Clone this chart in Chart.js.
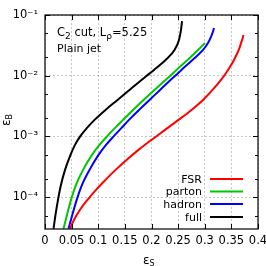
<!DOCTYPE html>
<html>
<head>
<meta charset="utf-8">
<script src="https://cdn.jsdelivr.net/npm/chart.js@4"></script>
<style>
  html, body { margin: 0; padding: 0; background: #fff; }
  #wrap { width: 266px; height: 266px; }
</style>
</head>
<body>
<div id="wrap"><canvas id="chart" width="266" height="266"></canvas></div>
<script>
// curve data: eps_S (x) and eps_B (y)
const fsrX    = [0.0469, 0.0545, 0.0657, 0.0798, 0.0958, 0.1136, 0.1324, 0.1531, 0.1756, 0.2, 0.2254, 0.2507, 0.2751, 0.2967, 0.3146, 0.3305, 0.3437, 0.3549, 0.3638, 0.37, 0.3728];
const fsrY    = [3.02e-5, 4.25e-5, 6.21e-5, 9.06e-5, 1.323e-4, 1.93e-4, 2.82e-4, 4.12e-4, 6.02e-4, 8.79e-4, 1.284e-3, 1.875e-3, 2.738e-3, 4.0e-3, 5.84e-3, 8.53e-3, 1.246e-2, 1.82e-2, 2.656e-2, 3.88e-2, 4.69e-2];
const partonX = [0.0347, 0.0413, 0.0488, 0.0582, 0.0714, 0.0883, 0.1023, 0.1174, 0.1315, 0.1465, 0.1653, 0.185, 0.2056, 0.2263, 0.2347, 0.2469, 0.2676, 0.2873, 0.3005];
const partonY = [3.02e-5, 5.13e-5, 9.06e-5, 1.6e-4, 2.82e-4, 4.98e-4, 7.27e-4, 1.023e-3, 1.385e-3, 1.875e-3, 2.738e-3, 4.0e-3, 5.84e-3, 8.53e-3, 9.92e-3, 1.246e-2, 1.82e-2, 2.656e-2, 3.46e-2];
const hadronX = [0.0441, 0.0513, 0.0595, 0.0695, 0.0836, 0.1005, 0.1146, 0.1296, 0.1437, 0.1577, 0.1765, 0.1962, 0.216, 0.2357, 0.2441, 0.2563, 0.277, 0.2967, 0.3061, 0.3117, 0.3164, 0.3174];
const hadronY = [3.02e-5, 5.13e-5, 9.06e-5, 1.6e-4, 2.82e-4, 4.98e-4, 7.27e-4, 1.023e-3, 1.385e-3, 1.875e-3, 2.738e-3, 4.0e-3, 5.84e-3, 8.53e-3, 9.92e-3, 1.246e-2, 1.82e-2, 2.656e-2, 3.46e-2, 4.35e-2, 5.67e-2, 6.11e-2];
const fullX   = [0.016, 0.0197, 0.0244, 0.030, 0.0376, 0.0479, 0.0563, 0.0667, 0.0789, 0.093, 0.1136, 0.1362, 0.1587, 0.1812, 0.1906, 0.2047, 0.2263, 0.2432, 0.2516, 0.2554, 0.2573];
const fullY   = [3.02e-5, 5.13e-5, 9.06e-5, 1.6e-4, 2.82e-4, 4.98e-4, 7.27e-4, 1.023e-3, 1.385e-3, 1.875e-3, 2.738e-3, 4.0e-3, 5.84e-3, 8.53e-3, 9.92e-3, 1.246e-2, 1.82e-2, 2.656e-2, 3.88e-2, 5.67e-2, 7.96e-2];

const seriesNames  = ["FSR", "parton", "hadron", "full"];
const seriesColors = ["#ff0000", "#00c800", "#0000ff", "#000000"];

const xTicks = [0, 0.05, 0.1, 0.15, 0.2, 0.25, 0.3, 0.35, 0.4];
const yMajor = [1e-4, 1e-3, 1e-2, 1e-1];
const yMinor = [5e-5, 2e-4, 5e-4, 2e-3, 5e-3, 2e-2, 5e-2];
const yLabels = ["10\u207B\u2074", "10\u207B\u00B3", "10\u207B\u00B2", "10\u207B\u00B9"];

const FONT = "'DejaVu Sans'";

function pts(xs, ys) {
    return xs.map((x, i) => ({ x: x, y: ys[i] }));
}

const allSeries = [pts(fsrX, fsrY), pts(partonX, partonY), pts(hadronX, hadronY), pts(fullX, fullY)];

// frame, inward ticks, titles, annotation and legend
const extras = {
    id: 'extras',
    afterDraw(chart) {
        const ctx = chart.ctx;
        const a = chart.chartArea;
        const xs = chart.scales.x, ys = chart.scales.y;
        ctx.save();
        ctx.strokeStyle = "#000";
        ctx.lineWidth = 1.2;
        ctx.strokeRect(a.left, a.top, a.right - a.left, a.bottom - a.top);

        ctx.lineWidth = 1;
        ctx.beginPath();
        xTicks.forEach(v => {
            const p = Math.round(xs.getPixelForValue(v)) + 0.5;
            ctx.moveTo(p, a.bottom); ctx.lineTo(p, a.bottom - 5);
            ctx.moveTo(p, a.top); ctx.lineTo(p, a.top + 5);
        });
        yMajor.forEach(v => {
            const p = Math.round(ys.getPixelForValue(v)) + 0.5;
            ctx.moveTo(a.left, p); ctx.lineTo(a.left + 5, p);
            ctx.moveTo(a.right, p); ctx.lineTo(a.right - 5, p);
        });
        yMinor.forEach(v => {
            const p = Math.round(ys.getPixelForValue(v)) + 0.5;
            ctx.moveTo(a.left, p); ctx.lineTo(a.left + 3, p);
            ctx.moveTo(a.right, p); ctx.lineTo(a.right - 3, p);
        });
        ctx.stroke();

        ctx.fillStyle = "#000";
        ctx.textBaseline = "alphabetic";
        ctx.textAlign = "left";

        // x title
        ctx.font = "12px " + FONT;
        let w = ctx.measureText("\u03B5").width;
        ctx.fillText("\u03B5", 143, 264);
        ctx.font = "8px " + FONT;
        ctx.fillText("S", 143 + w, 266);

        // y title
        ctx.save();
        ctx.translate(10, 126);
        ctx.rotate(-Math.PI / 2);
        ctx.font = "12px " + FONT;
        w = ctx.measureText("\u03B5").width;
        ctx.fillText("\u03B5", 0, 0);
        ctx.font = "8px " + FONT;
        ctx.fillText("B", w, 2);
        ctx.restore();

        // annotation
        let x = 57;
        const parts = [["C", 11.5, 0], ["2", 9, 3], [" cut, L", 11.5, 0], ["\u03C1", 9, 3], ["=5.25", 11.5, 0]];
        parts.forEach(p => {
            ctx.font = p[1] + "px " + FONT;
            ctx.fillText(p[0], x, 36 + p[2]);
            x += ctx.measureText(p[0]).width;
        });
        ctx.font = "11px " + FONT;
        ctx.fillText("Plain jet", 57, 52);

        // legend
        const rows = [179, 191.5, 204, 217];
        ctx.textAlign = "right";
        ctx.textBaseline = "middle";
        ctx.font = "11px " + FONT;
        seriesNames.forEach((n, i) => {
            ctx.fillStyle = "#000";
            ctx.fillText(n, 202, rows[i] + 1);
            ctx.strokeStyle = seriesColors[i];
            ctx.lineWidth = 2;
            ctx.beginPath();
            ctx.moveTo(210, rows[i]);
            ctx.lineTo(243, rows[i]);
            ctx.stroke();
        });
        ctx.restore();
    }
};

const config = {
    type: 'scatter',
    data: {
        datasets: allSeries.map((d, i) => ({
            label: seriesNames[i],
            data: d,
            showLine: true,
            borderColor: seriesColors[i],
            backgroundColor: seriesColors[i],
            borderWidth: 2,
            pointRadius: 0,
            cubicInterpolationMode: 'monotone'
        }))
    },
    options: {
        responsive: false,
        animation: false,
        layout: { padding: { top: 15, right: 8, left: 0, bottom: 0 } },
        plugins: { legend: { display: false }, tooltip: { enabled: false } },
        scales: {
            x: {
                type: 'linear',
                min: 0,
                max: 0.4,
                afterBuildTicks: s => { s.ticks = xTicks.map(v => ({ value: v })); },
                afterFit: s => { s.height = 37; s.paddingLeft = 0; s.paddingRight = 0; },
                ticks: {
                    padding: 5,
                    maxRotation: 0,
                    autoSkip: false,
                    color: "#000",
                    font: { family: "DejaVu Sans", size: 11.5 },
                    callback: v => String(v)
                },
                grid: { drawTicks: false, color: "rgba(0,0,0,0.22)", lineWidth: 1 },
                border: { display: false, dash: [2, 2] }
            },
            y: {
                type: 'logarithmic',
                min: 3e-5,
                max: 0.1,
                afterBuildTicks: s => { s.ticks = yMajor.map(v => ({ value: v })); },
                afterFit: s => { s.width = 45; s.paddingTop = 0; s.paddingBottom = 0; },
                ticks: {
                    padding: 7,
                    autoSkip: false,
                    color: "#000",
                    font: { family: "DejaVu Sans", size: 11.5 },
                    callback: v => yLabels[yMajor.indexOf(v)] || ""
                },
                grid: { drawTicks: false, color: "rgba(0,0,0,0.22)", lineWidth: 1 },
                border: { display: false, dash: [2, 2] }
            }
        }
    },
    plugins: [extras]
};

const myChart = new Chart(document.getElementById('chart'), config);
</script>
</body>
</html>
